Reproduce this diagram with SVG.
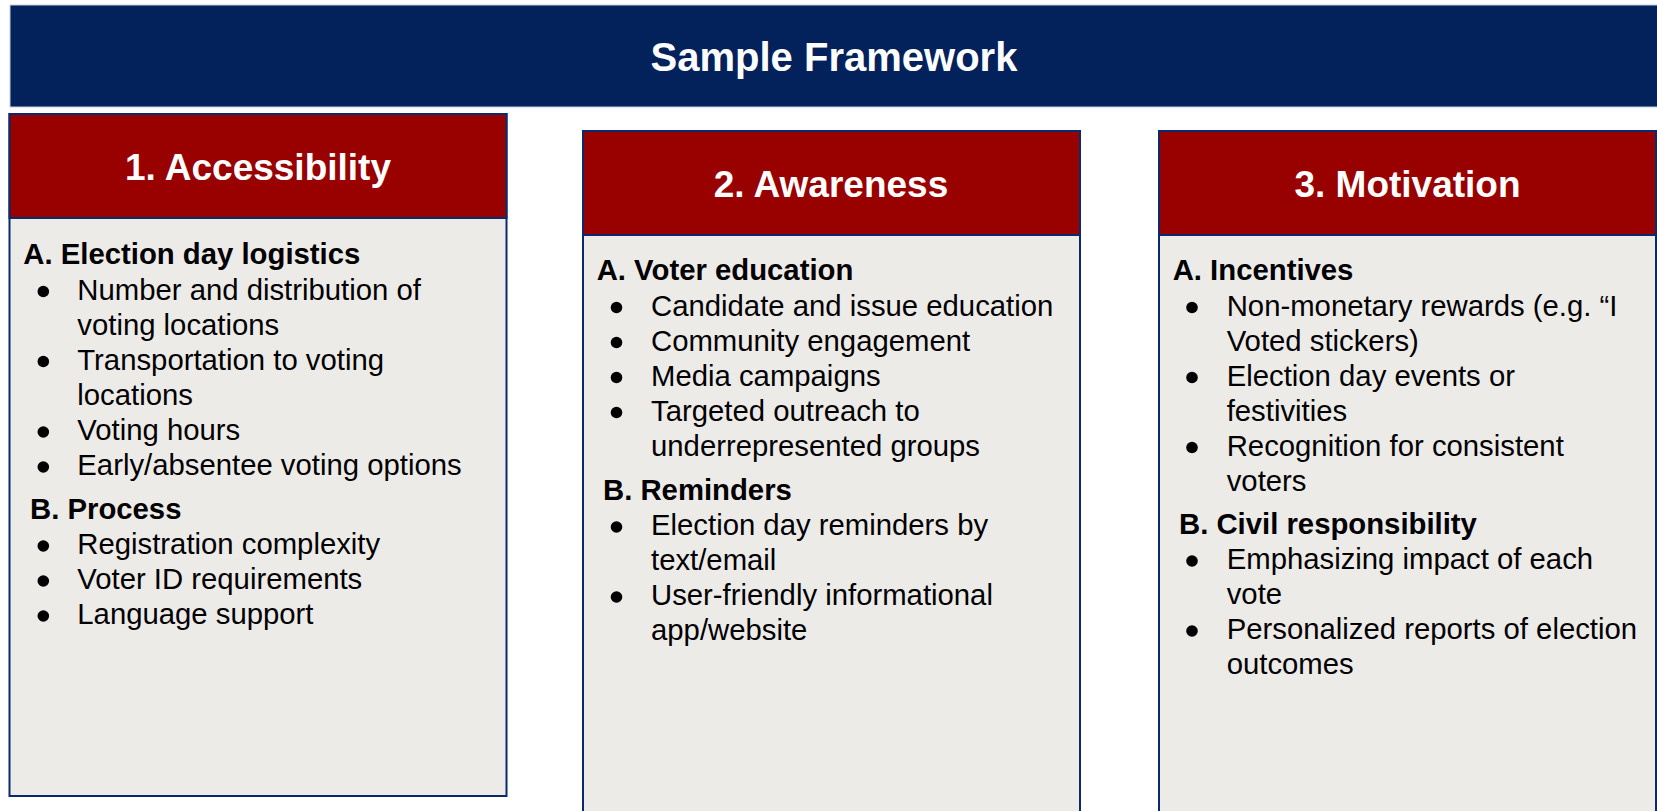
<svg xmlns="http://www.w3.org/2000/svg" width="1657" height="811" viewBox="0 0 1657 811">
<style>
.banner{fill:#03215b;stroke:#c9cfdc;stroke-width:1}
.title{font-family:"Liberation Sans",Arial,sans-serif;font-weight:bold;font-size:40px;fill:#ffffff;text-anchor:middle}
.hdr{fill:#990000;stroke:#0b2a6b;stroke-width:2}
.body{fill:#edebe8;stroke:#0b2a6b;stroke-width:2}
.htext{font-family:"Liberation Sans",Arial,sans-serif;font-weight:bold;font-size:37px;fill:#ffffff;text-anchor:middle}
.sub{font-family:"Liberation Sans",Arial,sans-serif;font-weight:bold;font-size:29.3px;fill:#000000}
.item{font-family:"Liberation Sans",Arial,sans-serif;font-size:29.3px;fill:#000000}
.dot{fill:#000000}
</style>
<rect width="1657" height="811" fill="#ffffff"/>
<g id="banner">
<rect class="banner" x="10" y="5" width="1660" height="102"/>
<text class="title" x="834" y="71">Sample Framework</text>
</g>
<g id="box1">
<rect class="body" x="9.5" y="114" width="497" height="682"/>
<rect class="hdr" x="9.5" y="114" width="497" height="104"/>
<text class="htext" x="258" y="180">1. Accessibility</text>
<text class="sub" x="23.3" y="264">A. Election day logistics</text>
<circle class="dot" cx="43.3" cy="291.5" r="5.8"/>
<text class="item" x="77.3" y="299.5">Number and distribution of</text>
<text class="item" x="77.3" y="334.5">voting locations</text>
<circle class="dot" cx="43.3" cy="361.5" r="5.8"/>
<text class="item" x="77.3" y="369.5">Transportation to voting</text>
<text class="item" x="77.3" y="404.5">locations</text>
<circle class="dot" cx="43.3" cy="432" r="5.8"/>
<text class="item" x="77.3" y="440">Voting hours</text>
<circle class="dot" cx="43.3" cy="467" r="5.8"/>
<text class="item" x="77.3" y="475">Early/absentee voting options</text>
<text class="sub" x="30" y="519">B. Process</text>
<circle class="dot" cx="43.3" cy="546" r="5.8"/>
<text class="item" x="77.3" y="554">Registration complexity</text>
<circle class="dot" cx="43.3" cy="581" r="5.8"/>
<text class="item" x="77.3" y="589">Voter ID requirements</text>
<circle class="dot" cx="43.3" cy="616" r="5.8"/>
<text class="item" x="77.3" y="624">Language support</text>
</g>
<g id="box2">
<rect class="body" x="583" y="131" width="497" height="690"/>
<rect class="hdr" x="583" y="131" width="497" height="104"/>
<text class="htext" x="831" y="197">2. Awareness</text>
<text class="sub" x="596.7" y="280">A. Voter education</text>
<circle class="dot" cx="616.5" cy="307.5" r="5.8"/>
<text class="item" x="651" y="315.5">Candidate and issue education</text>
<circle class="dot" cx="616.5" cy="342.5" r="5.8"/>
<text class="item" x="651" y="350.5">Community engagement</text>
<circle class="dot" cx="616.5" cy="377.5" r="5.8"/>
<text class="item" x="651" y="385.5">Media campaigns</text>
<circle class="dot" cx="616.5" cy="412.5" r="5.8"/>
<text class="item" x="651" y="420.5">Targeted outreach to</text>
<text class="item" x="651" y="456">underrepresented groups</text>
<text class="sub" x="603" y="500">B. Reminders</text>
<circle class="dot" cx="616.5" cy="527" r="5.8"/>
<text class="item" x="651" y="535">Election day reminders by</text>
<text class="item" x="651" y="570">text/email</text>
<circle class="dot" cx="616.5" cy="597" r="5.8"/>
<text class="item" x="651" y="605">User-friendly informational</text>
<text class="item" x="651" y="640">app/website</text>
</g>
<g id="box3">
<rect class="body" x="1159" y="131" width="497" height="690"/>
<rect class="hdr" x="1159" y="131" width="497" height="104"/>
<text class="htext" x="1407.5" y="197">3. Motivation</text>
<text class="sub" x="1172.7" y="280">A. Incentives</text>
<circle class="dot" cx="1192" cy="307.5" r="5.8"/>
<text class="item" x="1226.7" y="315.5">Non-monetary rewards (e.g. “I</text>
<text class="item" x="1226.7" y="350.5">Voted stickers)</text>
<circle class="dot" cx="1192" cy="377.5" r="5.8"/>
<text class="item" x="1226.7" y="385.5">Election day events or</text>
<text class="item" x="1226.7" y="420.5">festivities</text>
<circle class="dot" cx="1192" cy="447.5" r="5.8"/>
<text class="item" x="1226.7" y="455.5">Recognition for consistent</text>
<text class="item" x="1226.7" y="490.5">voters</text>
<text class="sub" x="1179" y="534">B. Civil responsibility</text>
<circle class="dot" cx="1192" cy="561" r="5.8"/>
<text class="item" x="1226.7" y="569">Emphasizing impact of each</text>
<text class="item" x="1226.7" y="604">vote</text>
<circle class="dot" cx="1192" cy="631" r="5.8"/>
<text class="item" x="1226.7" y="639">Personalized reports of election</text>
<text class="item" x="1226.7" y="674">outcomes</text>
</g>
</svg>
